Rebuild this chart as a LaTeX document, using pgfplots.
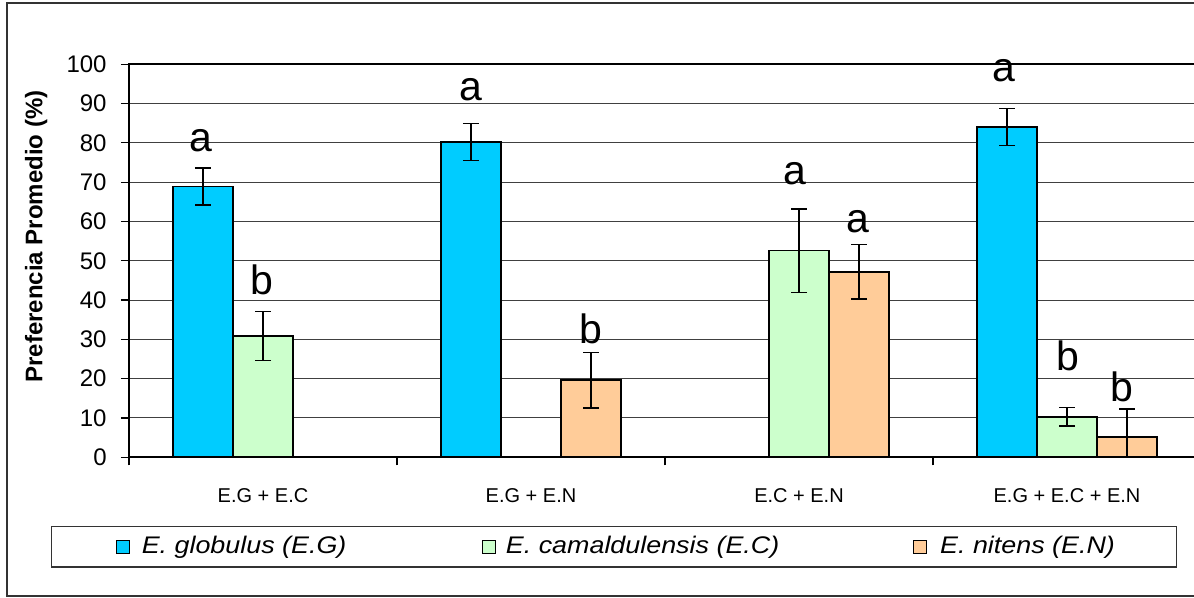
\documentclass[border=0pt]{standalone}
\usepackage{pgfplots}
\usepackage{pgfplotstable}
\pgfplotsset{compat=1.18}
\usepackage{fontspec}
\setmainfont{Liberation Sans}

\definecolor{cGlob}{HTML}{00CCFF}
\definecolor{cCama}{HTML}{CCFFCC}
\definecolor{cNit}{HTML}{FFCC99}

% mean preference (%) and its error, per mixture (0..3)
\pgfplotstableread{
x y err
0 68.9 4.7
1 80.2 4.7
3 84.0 4.7
}\globulus
\pgfplotstableread{
x y err
0 30.9 6.2
2 52.6 10.6
3 10.3 2.3
}\camal
\pgfplotstableread{
x y err
1 19.6 7.1
2 47.2 6.9
3 5.2 7.1
}\nitens
% significance letters (baseline height)
\pgfplotstableread{
x y lbl
-0.230 77.8 a
-0.005 41.3 b
0.776 90.7 a
1.224 29.0 b
1.985 69.3 a
2.220 57.2 a
2.765 95.6 a
3.005 22.2 b
3.205 14.3 b
}\letras

% one bar is 30pt wide = 0.2239 x units (134pt per mixture)
\def\barstep{0.2239}

\begin{document}
\begin{tikzpicture}
\path[use as bounding box] (0,0) rectangle (597pt,299pt);
\draw[line width=1pt, black!80] (3.5pt,1pt) rectangle (640pt,297.5pt);
\begin{axis}[
  at={(64.5pt,70.35pt)}, anchor=south west,
  scale only axis, width=536pt, height=196.5pt,
  xmin=-0.5, xmax=3.5, ymin=0, ymax=100,
  ytick={0,10,...,100},
  ymajorgrids, grid style={black!75, line width=0.5pt},
  xtick={-0.5,0.5,1.5,2.5,3.5},
  xticklabels={E.G + E.C, E.G + E.N, E.C + E.N, E.G + E.C + E.N},
  x tick label as interval,
  tick pos=left,
  tick align=outside, major tick length=4pt,
  axis line style={line width=1pt, black},
  tick style={black, line width=0.6pt},
  /pgf/number format/assume math mode=true,
  yticklabel style={font=\fontsize{12}{14}\selectfont, inner sep=0pt, xshift=-7pt},
  xticklabel style={font=\fontsize{10}{12}\selectfont, inner sep=0pt, yshift=-11.5pt},
  ylabel={Preferencia Promedio (\%)},
  ylabel style={font=\fontsize{12}{14}\selectfont\bfseries, at={(axis description cs:-0.0866,0.562)}, anchor=center},
  legend columns=3,
  legend style={at={(axis description cs:-0.0728,-0.1748)}, anchor=north west,
    draw=black!80, line width=0.6pt, inner xsep=32pt, inner ysep=5pt,
    nodes={inner sep=0pt}, column sep=0pt,
    font=\fontsize{12}{14}\selectfont},
  legend image code/.code={\draw[#1, line width=0.6pt] (0pt,-3.25pt) rectangle (6.5pt,3.25pt);},
  error bars/error bar style={black, line width=0.7pt, solid},
  error bars/error mark options={rotate=90, mark size=4pt, black, line width=0.7pt},
]
\addplot[ybar, bar width=30pt, bar shift=0pt, fill=cGlob, draw=black, line width=0.9pt,
  error bars/.cd, y dir=both, y explicit]
  table[x expr=\thisrow{x}-\barstep, y=y, y error=err] {\globulus};
\addlegendentry{\makebox[176pt][l]{\hspace{6pt}\scalebox{1.12}[1]{\itshape E. globulus (E.G)}}}
\addplot[ybar, bar width=30pt, bar shift=0pt, fill=cCama, draw=black, line width=0.9pt,
  error bars/.cd, y dir=both, y explicit]
  table[x=x, y=y, y error=err] {\camal};
\addlegendentry{\makebox[208.5pt][l]{\hspace{5pt}\scalebox{1.12}[1]{\itshape E. camaldulensis (E.C)}}}
\addplot[ybar, bar width=30pt, bar shift=0pt, fill=cNit, draw=black, line width=0.9pt,
  error bars/.cd, y dir=both, y explicit]
  table[x expr=\thisrow{x}+\barstep, y=y, y error=err] {\nitens};
\addlegendentry{\makebox[92.5pt][l]{\hspace{6.5pt}\scalebox{1.12}[1]{\itshape E. nitens (E.N)}}}
\addplot[forget plot, only marks, mark=none, nodes near coords, point meta=explicit symbolic,
  every node near coord/.append style={anchor=base, inner sep=0pt, font=\fontsize{20.5}{24}\selectfont}]
  table[x=x, y=y, meta=lbl] {\letras};
\end{axis}
\end{tikzpicture}
\end{document}
